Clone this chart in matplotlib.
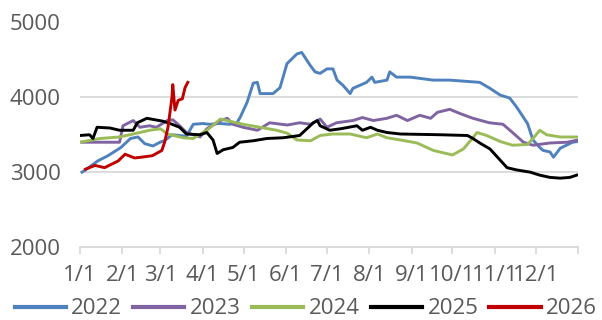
import matplotlib
matplotlib.use("Agg")
import matplotlib.pyplot as plt

plt.rcParams['font.family'] = ['Open Sans', 'DejaVu Sans']

month_ticks = [0, 31, 59, 90, 120, 151, 181, 212, 243, 273, 304, 334, 365]
month_labels = ["1/1", "2/1", "3/1", "4/1", "5/1", "6/1", "7/1", "8/1",
                "9/1", "10/1", "11/1", "12/1", ""]

days_2022 = [1.5, 4, 13, 20.5, 30, 37, 42.5, 47.5, 53.5, 58.6, 62, 67.4, 73, 78, 83, 90, 95,
             102.6, 110, 115, 117.3, 122.4, 127, 130, 132, 141.5, 146.6, 151.7, 159, 162.5,
             168.6, 172.3, 176, 181, 185.4, 188.4, 192.8, 198, 200, 210, 214, 216, 225, 227,
             232, 242, 259, 271, 293, 300.5, 308, 315, 320, 328, 332, 337, 339.5, 344.5, 347,
             352, 361, 365]
vals_2022 = [3000, 3030, 3150, 3220, 3330, 3450, 3470, 3380, 3350, 3400, 3420, 3500, 3490, 3480,
             3640, 3650, 3640, 3650, 3640, 3660, 3730, 3930, 4190, 4200, 4050, 4050, 4130, 4450,
             4580, 4600, 4430, 4340, 4320, 4380, 4380, 4230, 4160, 4050, 4120, 4200, 4270, 4200,
             4230, 4340, 4270, 4270, 4230, 4230, 4200, 4120, 4030, 3990, 3870, 3650, 3430, 3330,
             3290, 3270, 3200, 3320, 3400, 3410]

days_2023 = [1.5, 29, 31.5, 39, 44, 51, 56, 64, 68, 73, 78, 88, 93, 103, 108, 112, 119.5, 130,
             139, 152, 161, 169, 176, 181, 188, 200, 207, 215, 225, 232, 240, 249, 257, 262, 271,
             279, 288, 300, 310, 317, 325, 332, 344.5, 357, 365]
vals_2023 = [3400, 3400, 3620, 3690, 3600, 3620, 3600, 3690, 3700, 3620, 3530, 3470, 3580, 3690,
             3720, 3640, 3600, 3560, 3660, 3630, 3660, 3640, 3710, 3600, 3660, 3690, 3730, 3690,
             3720, 3760, 3690, 3760, 3720, 3800, 3840, 3780, 3720, 3660, 3640, 3530, 3400, 3360,
             3390, 3400, 3430]

days_2024 = [0, 14.7, 29, 39, 51, 59, 64, 75.5, 83, 93, 103, 110, 119.5, 132, 144, 152, 159, 169,
             176, 185, 198, 210, 218, 225, 235, 247, 259, 273, 281, 288, 291, 298, 308, 317, 328,
             332, 337, 342, 352, 365]
vals_2024 = [3400, 3450, 3470, 3510, 3560, 3580, 3510, 3460, 3450, 3560, 3710, 3680, 3640, 3600,
             3560, 3520, 3430, 3420, 3490, 3510, 3510, 3460, 3510, 3460, 3430, 3390, 3290, 3230,
             3310, 3460, 3530, 3490, 3410, 3360, 3370, 3450, 3560, 3500, 3470, 3470]

days_2025 = [0, 7, 9.5, 12.5, 22, 29, 39, 42, 49, 61, 66, 73, 78, 88, 93, 97.5, 100.5, 105, 112,
             117, 127, 137, 149, 161, 171, 174, 176, 183, 191, 203, 207, 213, 218, 225, 235, 264,
             284, 288, 293, 300.5, 308, 313, 320, 330, 337, 344.5, 352, 359, 364]
vals_2025 = [3490, 3500, 3450, 3600, 3590, 3560, 3560, 3660, 3720, 3680, 3650, 3600, 3510, 3500,
             3530, 3430, 3250, 3300, 3330, 3400, 3420, 3450, 3460, 3490, 3660, 3690, 3620, 3560,
             3580, 3620, 3560, 3600, 3560, 3530, 3510, 3500, 3490, 3450, 3390, 3310, 3160, 3060,
             3030, 3000, 2960, 2930, 2920, 2930, 2960]

days_2026 = [4, 11, 18, 28, 33, 40, 45, 53, 60, 62, 64.5, 67.4, 68, 69.6, 72, 75, 77, 79]
vals_2026 = [3040, 3090, 3060, 3150, 3240, 3190, 3200, 3220, 3290, 3400, 3600, 4000, 4170, 3830,
             3960, 3980, 4130, 4200]

series = [
    ("2022", days_2022, vals_2022, "#4F81BD"),
    ("2023", days_2023, vals_2023, "#8064A2"),
    ("2024", days_2024, vals_2024, "#9BBB59"),
    ("2025", days_2025, vals_2025, "#000000"),
    ("2026", days_2026, vals_2026, "#C00000"),
]

fig = plt.figure(figsize=(6.02, 3.2), dpi=100)
ax = fig.add_axes([80 / 602, 1 - 247 / 320, 498 / 602, (247 - 22.5) / 320])

for name, d, v, c in series:
    ax.plot(d, v, color=c, lw=2.1, label=name, solid_joinstyle='round')

ax.set_xlim(0, 365)
ax.set_ylim(2000, 5000)
ax.set_yticks([2000, 3000, 4000, 5000])
ax.set_xticks(month_ticks)
ax.set_xticklabels(month_labels)

grey = "#595959"
ax.grid(axis='y', color="#D9D9D9", lw=1.3)
ax.set_axisbelow(True)
for s in ['top', 'right', 'left']:
    ax.spines[s].set_visible(False)
ax.spines['bottom'].set_color("#D9D9D9")
ax.spines['bottom'].set_linewidth(1.3)
ax.tick_params(axis='y', length=0, pad=14, labelsize=16, labelcolor=grey)
ax.tick_params(axis='x', length=5, width=1.3, color="#D9D9D9", pad=8, labelsize=16,
               labelcolor=grey)

leg = fig.legend(loc='center', bbox_to_anchor=(0.508, 1 - 309 / 320), ncol=5, frameon=False,
                 fontsize=16, handlelength=2.3, handletextpad=0.25, columnspacing=0.5,
                 labelcolor=grey, borderpad=0, borderaxespad=0)
for line in leg.get_lines():
    line.set_linewidth(3.0)

fig.savefig("out.png", dpi=100)
